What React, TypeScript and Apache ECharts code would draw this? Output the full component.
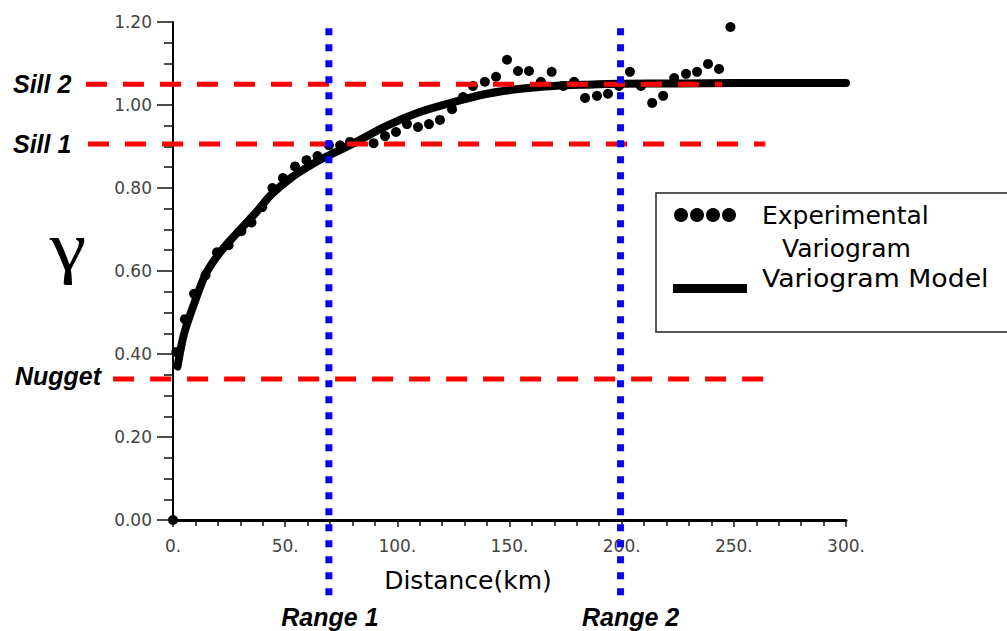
import React, { useEffect, useRef } from "react";
import * as echarts from "echarts";

// Experimental variogram (distance km, gamma)
const expDistance = [
  0, 1.5, 5.3, 9.4, 14.5, 19.6, 24.8, 30.5, 35, 39.8, 44.3, 49, 54.4, 59.5, 64.4,
  69.5, 74.5, 78.9, 89.4, 94.5, 99.4, 104.3, 109.2, 114.1, 119, 124.4, 129.3,
  133.7, 139, 144, 148.9, 153.8, 158.7, 164, 168.8, 174, 178.8, 183.7, 189,
  193.9, 198.8, 203.7, 208.6, 213.6, 218.5, 223.4, 228.7, 233.6, 238.5, 243.4, 248.5,
];
const expGamma = [
  0, 0.405, 0.484, 0.545, 0.59, 0.645, 0.662, 0.696, 0.717, 0.754, 0.8, 0.824,
  0.852, 0.867, 0.877, 0.903, 0.903, 0.911, 0.908, 0.925, 0.935, 0.954, 0.947,
  0.954, 0.964, 0.99, 1.019, 1.046, 1.056, 1.068, 1.109, 1.082, 1.082, 1.056,
  1.08, 1.046, 1.056, 1.017, 1.022, 1.027, 1.046, 1.08, 1.046, 1.005, 1.022,
  1.065, 1.075, 1.08, 1.099, 1.087, 1.188,
];

// Fitted variogram model
const modelDistance = [
  2, 5, 10, 15, 22, 30, 37, 44, 53, 62, 70, 80, 95, 110, 125, 140, 155, 170, 185,
  200, 225, 250, 275, 300,
];
const modelGamma = [
  0.37, 0.45, 0.53, 0.597, 0.652, 0.7, 0.741, 0.785, 0.826, 0.857, 0.88, 0.906,
  0.949, 0.983, 1.007, 1.027, 1.039, 1.046, 1.049, 1.051, 1.052, 1.053, 1.053, 1.053,
];

// Reference levels
const sillNames = ["Nugget", "Sill 1", "Sill 2"];
const sillValues = [0.34, 0.906, 1.05];
const sillExtent = [
  [-26.7, 268],
  [-37.9, 264],
  [-38.8, 244.8],
];
const rangeNames = ["Range 1", "Range 2"];
const rangeValues = [69.5, 199.5];
const rangeExtent = [-0.2, 1.185];

// Axis ticks
const xMin = 0;
const xMax = 300;
const xInterval = 50;
const yMin = 0;
const yMax = 1.2;
const yInterval = 0.2;

const seriesNames = ["Experimental Variogram", "Variogram Model"];

export default function App() {
  const ref = useRef<HTMLDivElement>(null);

  useEffect(() => {
    document.body.style.margin = "0";
    const chart = echarts.init(ref.current!, null, { renderer: "svg" });
    const tickLabel = {
      color: "#444",
      fontFamily: "DejaVu Sans",
      fontSize: 17,
    };
    chart.setOption({
      animation: false,
      backgroundColor: "#ffffff",
      grid: { left: 173, right: 161, top: 22, bottom: 111, containLabel: false },
      xAxis: {
        type: "value",
        min: xMin,
        max: xMax,
        interval: xInterval,
        axisLine: { show: true, onZero: false, lineStyle: { color: "#000", width: 3 } },
        axisTick: { show: true, length: 7, lineStyle: { color: "#111", width: 1.5 } },
        minorTick: { show: true, splitNumber: 5, length: 6, lineStyle: { color: "#111", width: 1.5 } },
        splitLine: { show: false },
        axisLabel: {
          ...tickLabel,
          margin: 17,
          formatter: (v: number) => `${v}.`,
        },
        name: "Distance(km)",
        nameLocation: "middle",
        nameGap: 48,
        nameTextStyle: {
          color: "#000",
          fontFamily: "DejaVu Sans",
          fontSize: 25,
          padding: [0, 83, 0, 0],
        },
      },
      yAxis: {
        type: "value",
        min: yMin,
        max: yMax,
        interval: yInterval,
        axisLine: { show: true, lineStyle: { color: "#000", width: 2 } },
        axisTick: { show: true, length: 16, lineStyle: { color: "#111", width: 1.5 } },
        minorTick: { show: true, splitNumber: 4, length: 9, lineStyle: { color: "#111", width: 1.5 } },
        splitLine: { show: false },
        axisLabel: {
          ...tickLabel,
          margin: 21,
          padding: [0, 0, 12, 0],
          formatter: (v: number) => v.toFixed(2),
        },
      },
      series: [
        {
          name: seriesNames[0],
          type: "scatter",
          data: expDistance.map((d, i) => [d, expGamma[i]]),
          symbol: "circle",
          symbolSize: 10,
          itemStyle: { color: "#000", opacity: 1 },
          z: 2,
          clip: false,
        },
        {
          name: seriesNames[1],
          type: "line",
          data: modelDistance.map((d, i) => [d, modelGamma[i]]),
          showSymbol: false,
          symbol: "none",
          smooth: 0.3,
          lineStyle: { color: "#000", width: 8, cap: "round", opacity: 1 },
          z: 3,
        },
      ],
    });

    const px = (x: number, y: number) =>
      chart.convertToPixel({ gridIndex: 0 }, [x, y]) as number[];

    const labelFont = {
      fontFamily: "Liberation Sans, Arial, sans-serif",
      fontWeight: "bold",
      fontStyle: "italic",
      fontSize: 25,
      fill: "#000",
    };

    const graphics: any[] = [];

    // Sill / nugget lines and labels
    sillValues.forEach((v, i) => {
      const a = px(sillExtent[i][0], v);
      const b = px(sillExtent[i][1], v);
      graphics.push({
        type: "line",
        z: 10,
        shape: { x1: a[0], y1: a[1], x2: b[0], y2: b[1] },
        style: { stroke: "#ff0000", lineWidth: 5, lineDash: [21, 16] },
      });
      graphics.push({
        type: "text",
        z: 12,
        x: i === 0 ? 15 : 13,
        y: a[1] + (i === 0 ? -3 : 0),
        style: { ...labelFont, text: sillNames[i], align: "left", verticalAlign: "middle" },
      });
    });

    // Range lines and labels
    rangeValues.forEach((v, i) => {
      const a = px(v, rangeExtent[1]);
      const b = px(v, rangeExtent[0]);
      graphics.push({
        type: "line",
        z: 11,
        shape: { x1: a[0], y1: a[1], x2: b[0], y2: b[1] },
        style: { stroke: "#0000ff", lineWidth: 7, lineDash: [7, 9] },
      });
      graphics.push({
        type: "text",
        z: 12,
        x: a[0] + (i === 0 ? 1 : 10),
        y: 617,
        style: { ...labelFont, text: rangeNames[i], align: "center", verticalAlign: "middle" },
      });
    });

    // gamma symbol
    graphics.push({
      type: "text",
      z: 12,
      x: 68,
      y: 247,
      scaleX: 1.18,
      originX: 0,
      originY: 0,
      style: {
        text: "γ",
        fontFamily: "Liberation Serif, Times New Roman, serif",
        fontSize: 70,
        fill: "#000",
        align: "center",
        verticalAlign: "middle",
      },
    });

    // Legend box
    const legFont = { fontFamily: "DejaVu Sans", fontSize: 25, fill: "#000" };
    graphics.push({
      type: "group",
      z: 20,
      children: [
        {
          type: "rect",
          shape: { x: 656, y: 193, width: 400, height: 139 },
          style: { fill: "#fff", stroke: "#222", lineWidth: 1.5 },
        },
        ...[681, 697, 713, 729].map((cx) => ({
          type: "circle",
          shape: { cx, cy: 215, r: 7 },
          style: { fill: "#000" },
        })),
        {
          type: "text",
          x: 762,
          y: 215,
          style: { ...legFont, text: "Experimental", align: "left", verticalAlign: "middle" },
        },
        {
          type: "text",
          x: 782,
          y: 248,
          style: { ...legFont, text: "Variogram", align: "left", verticalAlign: "middle" },
        },
        {
          type: "rect",
          shape: { x: 673, y: 284, width: 74, height: 9 },
          style: { fill: "#000" },
        },
        {
          type: "text",
          x: 762,
          y: 278,
          scaleX: 1.07,
          originX: 0,
          originY: 0,
          style: { ...legFont, text: "Variogram Model", align: "left", verticalAlign: "middle" },
        },
      ],
    });

    chart.setOption({ graphic: graphics });

    return () => chart.dispose();
  }, []);

  return <div ref={ref} style={{ width: 1007, height: 631 }} />;
}
